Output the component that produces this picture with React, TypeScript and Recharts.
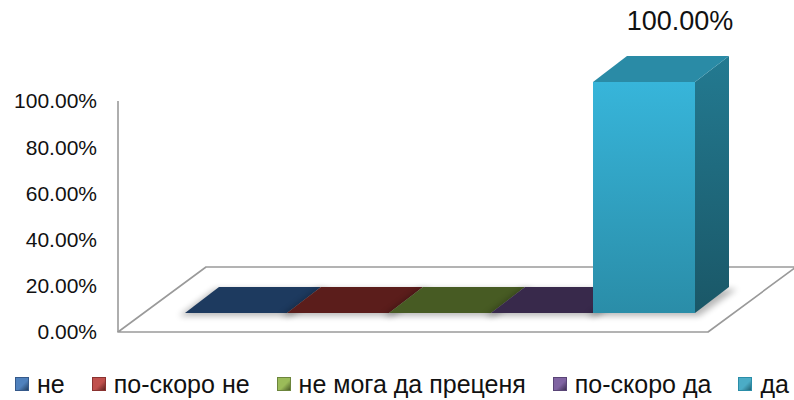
import { BarChart, Bar, XAxis, YAxis, Legend, ReferenceArea, LabelList } from "recharts";

const categories = ["Отговори"];
const seriesNames = ["не", "по-скоро не", "не мога да преценя", "по-скоро да", "да"];
const seriesValues = [0, 0, 0, 0, 1];
const yTicks = [0, 0.2, 0.4, 0.6, 0.8, 1];
const labelledSeries = ["да"];

const legendColors = ["#4f81bd", "#c0504d", "#9bbb59", "#8064a2", "#4bacc6"];
const frontTop = ["#4a7ab6", "#b9463f", "#93b452", "#7a5ea0", "#37b5da"];
const frontBottom = ["#35598a", "#8a3230", "#6c853c", "#594476", "#2a8da8"];
const sideTop = ["#284a78", "#6c2522", "#566b2c", "#463660", "#237a91"];
const sideBottom = ["#1c3553", "#4d1a18", "#3e4d20", "#322645", "#1a5767"];
const topColors = ["#1d3a5f", "#5b1d1b", "#475b23", "#38294b", "#2a8ba6"];

const data = categories.map((c) => {
  const row: Record<string, string | number> = { name: c };
  seriesNames.forEach((_, i) => (row[`s${i}`] = seriesValues[i]));
  return row;
});

const FONT = "'Liberation Sans', Arial, sans-serif";
const SHIFT = { dx: 28, dy: -19 }; // bars stand a little behind the front edge of the floor
const DEPTH = { dx: 34, dy: -26 };
const FLOOR = { dx: 88, dy: -65 };

const pct = (v: number) => `${(v * 100).toFixed(2)}%`;

function Floor(props: any) {
  const { x, y, width, height } = props;
  const b = y + height;
  const pts = [
    [x, b],
    [x + width, b],
    [x + width + FLOOR.dx, b + FLOOR.dy],
    [x + FLOOR.dx, b + FLOOR.dy],
  ]
    .map((p) => p.join(","))
    .join(" ");
  return <polygon points={pts} fill="#fff" stroke="#9a9a9a" strokeWidth={1.6} strokeLinejoin="round" />;
}

function Box3D(props: any) {
  const { x, y, width, height, si } = props;
  const w = width;
  const x0 = x + SHIFT.dx;
  const yt = y + SHIFT.dy;
  const yb = y + height + SHIFT.dy;
  const dx = DEPTH.dx;
  const dy = DEPTH.dy;
  const poly = (pts: number[][]) => pts.map((p) => p.join(",")).join(" ");
  return (
    <g>
      <polygon
        points={poly([
          [x0 - 6, yb + 3],
          [x0 + w + 4, yb + 3],
          [x0 + w + dx + 8, yb + dy + 2],
          [x0 + dx - 4, yb + dy + 2],
        ])}
        fill="#000"
        opacity={0.28}
        filter="url(#soft)"
      />
      {height > 0 && (
        <>
          <rect x={x0} y={yt} width={w} height={height} fill={`url(#front${si})`} />
          <polygon
            points={poly([
              [x0 + w, yt],
              [x0 + w + dx, yt + dy],
              [x0 + w + dx, yb + dy],
              [x0 + w, yb],
            ])}
            fill={`url(#side${si})`}
          />
        </>
      )}
      <polygon
        points={poly([
          [x0, yt],
          [x0 + w, yt],
          [x0 + w + dx, yt + dy],
          [x0 + dx, yt + dy],
        ])}
        fill={topColors[si]}
      />
    </g>
  );
}

function TopLabel(props: any) {
  const { x, y, width, value } = props;
  const cx = x + width / 2 + SHIFT.dx + DEPTH.dx + 2;
  const cy = y + SHIFT.dy + DEPTH.dy - 35;
  return (
    <text x={cx} y={cy} textAnchor="middle" dominantBaseline="central" fontSize={27} fill="#111" fontFamily={FONT}>
      {pct(value)}
    </text>
  );
}

function LegendRow() {
  return (
    <div
      style={{
        height: 30,
        display: "flex",
        justifyContent: "center",
        alignItems: "center",
        gap: 27,
        fontFamily: FONT,
        fontSize: 25,
        color: "#111",
        paddingLeft: 10,
      }}
    >
      {seriesNames.map((n, i) => (
        <div key={n} style={{ display: "flex", alignItems: "center", gap: 8 }}>
          <span
            style={{
              width: 14,
              height: 14,
              display: "inline-block",
              background: `linear-gradient(135deg, ${legendColors[i]} 0%, ${legendColors[i]} 55%, ${sideBottom[i]} 100%)`,
              boxShadow: `inset 0 0 0 1px ${frontBottom[i]}`,
            }}
          />
          <span>{n}</span>
        </div>
      ))}
    </div>
  );
}

export default function App() {
  return (
    <div style={{ position: "absolute", left: 0, top: 0, width: 794, height: 400, background: "#fff" }}>
      <BarChart
        width={794}
        height={400}
        data={data}
        margin={{ top: 101, right: 86, bottom: 38, left: 0 }}
        barGap={0}
        barCategoryGap={39}
      >
        <defs>
          {seriesNames.map((_, i) => (
            <linearGradient key={`f${i}`} id={`front${i}`} x1="0" y1="0" x2="0" y2="1">
              <stop offset="0%" stopColor={frontTop[i]} />
              <stop offset="100%" stopColor={frontBottom[i]} />
            </linearGradient>
          ))}
          {seriesNames.map((_, i) => (
            <linearGradient key={`s${i}`} id={`side${i}`} x1="0" y1="0" x2="0" y2="1">
              <stop offset="0%" stopColor={sideTop[i]} />
              <stop offset="100%" stopColor={sideBottom[i]} />
            </linearGradient>
          ))}
          <filter id="soft" x="-20%" y="-50%" width="140%" height="200%">
            <feGaussianBlur stdDeviation={3} />
          </filter>
        </defs>
        <XAxis dataKey="name" hide />
        <YAxis
          width={118}
          domain={[0, 1]}
          ticks={yTicks}
          tickFormatter={pct}
          tickLine={false}
          tickMargin={15}
          axisLine={{ stroke: "#9a9a9a", strokeWidth: 1.6 }}
          tick={{ fontSize: 21, fill: "#111", fontFamily: FONT }}
          interval={0}
        />
        <ReferenceArea y1={0} y2={1} ifOverflow="visible" shape={(p: any) => <Floor {...p} />} />
        {seriesNames.map((n, i) => (
          <Bar
            key={n}
            dataKey={`s${i}`}
            name={n}
            fill={legendColors[i]}
            isAnimationActive={false}
            shape={(p: any) => <Box3D {...p} si={i} />}
          >
            {labelledSeries.includes(n) && <LabelList dataKey={`s${i}`} content={(p: any) => <TopLabel {...p} />} />}
          </Bar>
        ))}
        <Legend verticalAlign="bottom" wrapperStyle={{ bottom: 1, left: 0, width: 794 }} content={() => <LegendRow />} />
      </BarChart>
    </div>
  );
}
